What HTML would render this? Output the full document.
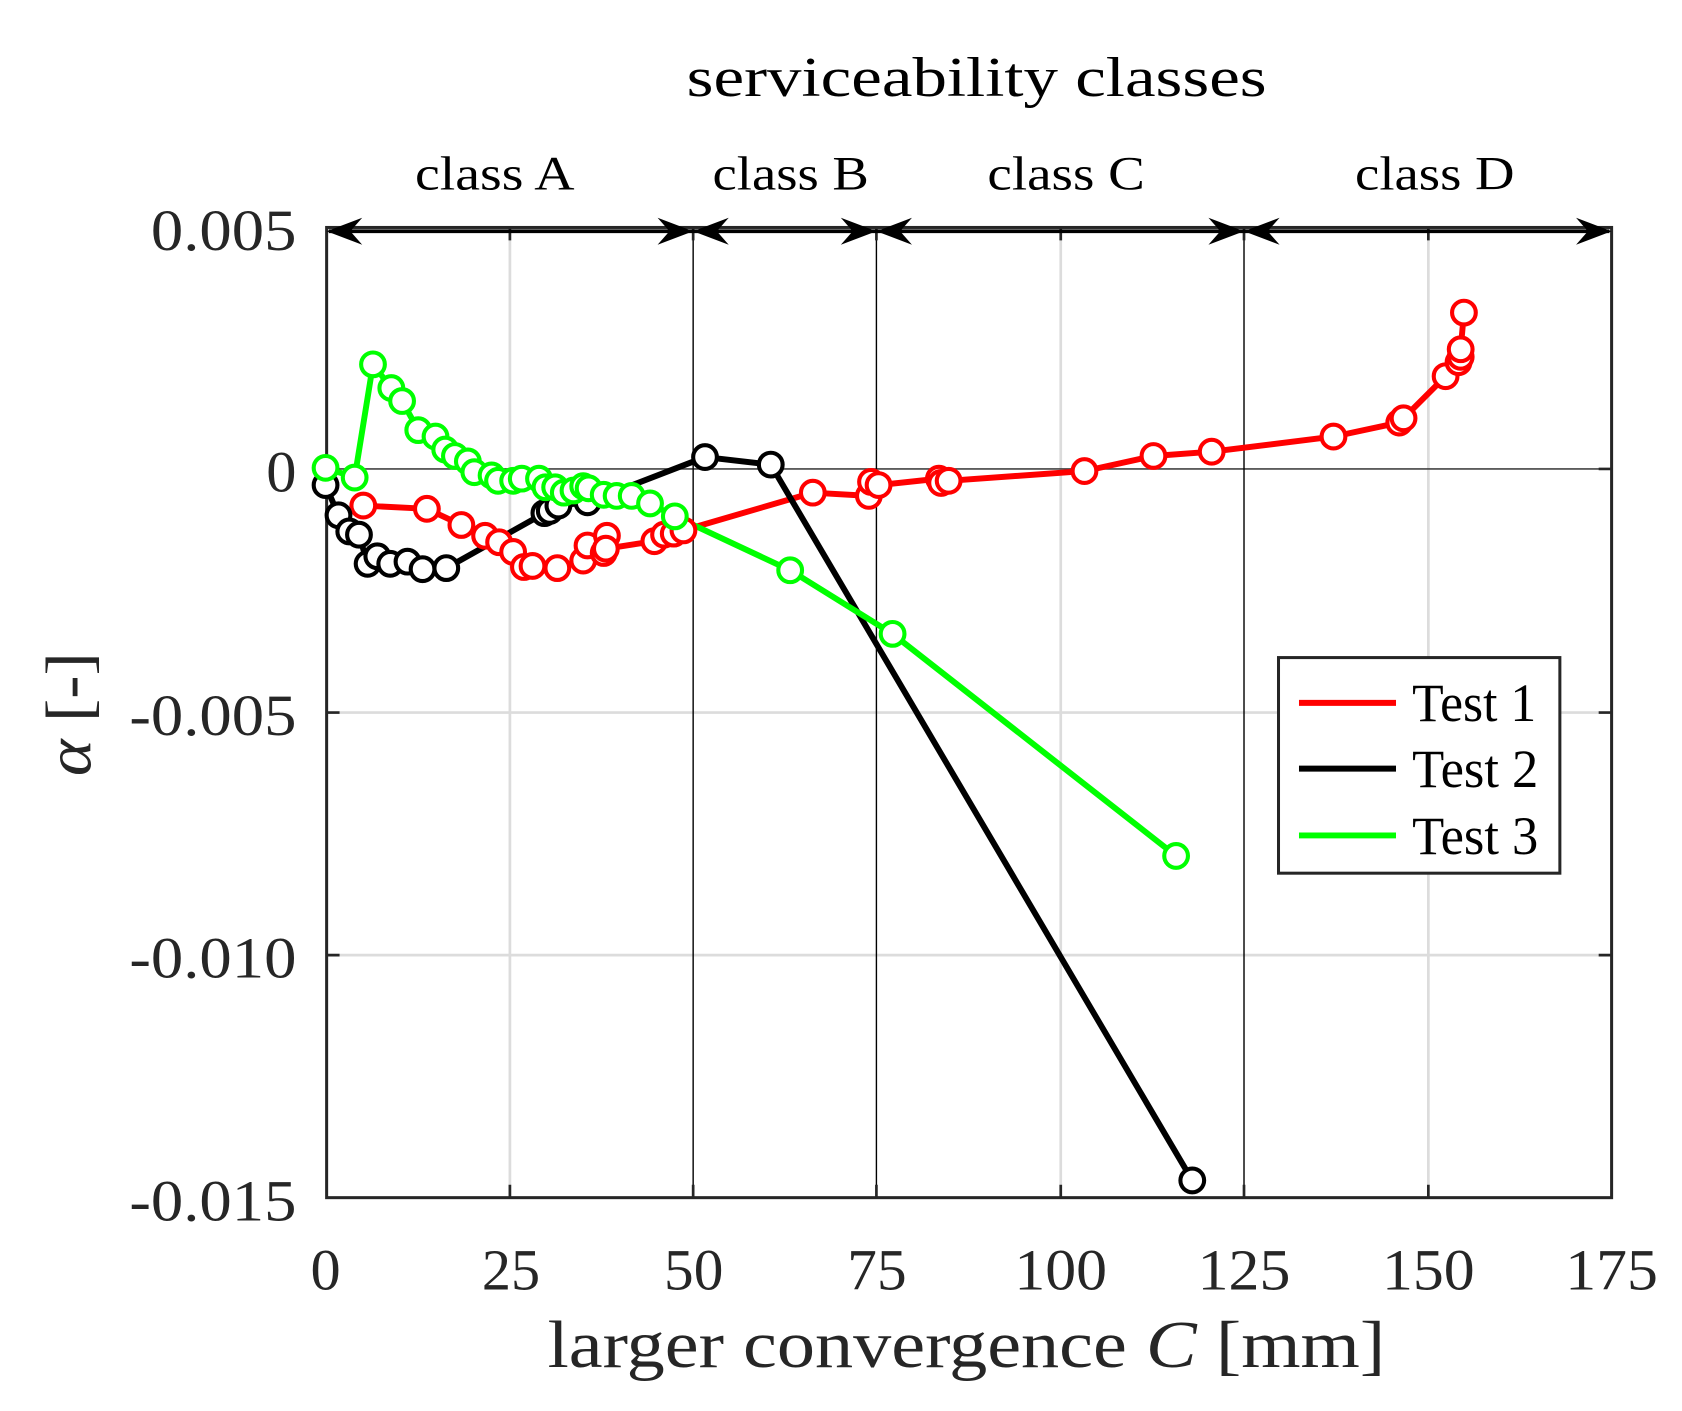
<!DOCTYPE html>
<html><head><meta charset="utf-8"><style>html,body{margin:0;padding:0;background:#fff}svg{display:block}</style></head>
<body>
<svg width="1682" height="1411" viewBox="0 0 1560.3 1308.9" preserveAspectRatio="none" xmlns="http://www.w3.org/2000/svg" font-family="Liberation Serif, serif">
<rect x="0" y="0" width="1561" height="1309" fill="#fff"/>
<g stroke="#dcdcdc" stroke-width="2.5">
<line x1="473" y1="211" x2="473" y2="1111"/>
<line x1="984" y1="211" x2="984" y2="1111"/>
<line x1="1325" y1="211" x2="1325" y2="1111"/>
<line x1="303" y1="661" x2="1495" y2="661"/>
<line x1="303" y1="886" x2="1495" y2="886"/>
</g>
<line x1="303" y1="435" x2="1495" y2="435" stroke="#444" stroke-width="1.5"/>
<g stroke="#000" stroke-width="1.3">
<line x1="643" y1="211" x2="643" y2="1111"/>
<line x1="813" y1="211" x2="813" y2="1111"/>
<line x1="1154" y1="211" x2="1154" y2="1111"/>
</g>
<g stroke="#262626" stroke-width="2.5">
<path d="M473 1111v-12M643 1111v-12M813 1111v-12M984 1111v-12M1154 1111v-12M1325 1111v-12M473 211v12M643 211v12M813 211v12M984 211v12M1154 211v12M1325 211v12"/>
<path d="M303 435h12M303 661h12M303 886h12M1495 435h-12M1495 661h-12M1495 886h-12"/>
</g>
<rect x="303" y="211" width="1192" height="900" fill="none" stroke="#262626" stroke-width="2.8"/>
<g stroke="#000" stroke-width="3.5"><line x1="305" y1="214.5" x2="1493" y2="214.5"/></g>
<g fill="#000">
<path d="M303 214.5 L336 202 L325 214.5 L336 227 Z"/>
<path d="M643 214.5 L610 202 L621 214.5 L610 227 Z"/>
<path d="M643 214.5 L676 202 L665 214.5 L676 227 Z"/>
<path d="M813 214.5 L780 202 L791 214.5 L780 227 Z"/>
<path d="M813 214.5 L846 202 L835 214.5 L846 227 Z"/>
<path d="M1154 214.5 L1121 202 L1132 214.5 L1121 227 Z"/>
<path d="M1154 214.5 L1187 202 L1176 214.5 L1187 227 Z"/>
<path d="M1495 214.5 L1462 202 L1473 214.5 L1462 227 Z"/>
</g>
<g fill="#000">
<text x="637" y="89" font-size="52" textLength="538" lengthAdjust="spacingAndGlyphs">serviceability classes</text>
<g font-size="44">
<text x="385" y="176" textLength="148" lengthAdjust="spacingAndGlyphs">class A</text>
<text x="661" y="176" textLength="145" lengthAdjust="spacingAndGlyphs">class B</text>
<text x="916" y="176" textLength="146" lengthAdjust="spacingAndGlyphs">class C</text>
<text x="1257" y="176" textLength="148" lengthAdjust="spacingAndGlyphs">class D</text>
</g>
<g font-size="54" fill="#262626">
<text x="140" y="232" textLength="135" lengthAdjust="spacingAndGlyphs">0.005</text>
<text x="247" y="456" textLength="28" lengthAdjust="spacingAndGlyphs">0</text>
<text x="120" y="682" textLength="155" lengthAdjust="spacingAndGlyphs">-0.005</text>
<text x="120" y="907" textLength="155" lengthAdjust="spacingAndGlyphs">-0.010</text>
<text x="120" y="1132" textLength="155" lengthAdjust="spacingAndGlyphs">-0.015</text>
</g>
<g font-size="54" fill="#262626">
<text x="288" y="1196" textLength="28" lengthAdjust="spacingAndGlyphs">0</text>
<text x="447" y="1196" textLength="54" lengthAdjust="spacingAndGlyphs">25</text>
<text x="616" y="1196" textLength="55" lengthAdjust="spacingAndGlyphs">50</text>
<text x="786" y="1196" textLength="55" lengthAdjust="spacingAndGlyphs">75</text>
<text x="941" y="1196" textLength="86" lengthAdjust="spacingAndGlyphs">100</text>
<text x="1111" y="1196" textLength="86" lengthAdjust="spacingAndGlyphs">125</text>
<text x="1282" y="1196" textLength="86" lengthAdjust="spacingAndGlyphs">150</text>
<text x="1452" y="1196" textLength="86" lengthAdjust="spacingAndGlyphs">175</text>
</g>
<text x="508" y="1268" font-size="62" fill="#262626" textLength="777" lengthAdjust="spacingAndGlyphs">larger convergence <tspan font-style="italic">C</tspan> [mm]</text>
<text transform="translate(84,720) rotate(-90)" font-size="60" fill="#262626" textLength="115" lengthAdjust="spacingAndGlyphs"><tspan font-style="italic">α</tspan> [-]</text>
</g>
<g fill="none" stroke-width="5.5" stroke-linejoin="round">
<polyline stroke="#ff0000" points="337,469 396,472 428,487 450,497 463,503 476,512 486,526 494,525 517,527 541,520 545,506 560,513 563,497 562,509 607,502 616,496 625,495 634,492 754,457 806,460 808,447 815,450 871,444 873,448 880,446 1006,437 1070,423 1124,419 1237,405 1298,392 1302,388 1341,349 1353,336 1355,331 1355,324 1358,290"/>
<polyline stroke="#000" points="302,450 314,478 324,493 333,496 341,523 350,516 362,523 378,521 392,528 414,527 505,476 510,474 518,469 545,466 654,424 715,431 1106,1095"/>
<polyline stroke="#00ff00" points="302,434 329,443 346,338 363,360 373,372 388,399 404,405 413,417 422,423 434,428 440,438 456,441 462,446 476,446 484,444 500,444 506,452 515,452 523,457 532,455 541,451 546,453 560,459 572,460 586,460 603,467 626,479 733,529 828,588 1091,794"/>
</g>
<g fill="#fff" stroke-width="3.8">
<g stroke="#ff0000">
<circle cx="337" cy="469" r="11"/><circle cx="396" cy="472" r="11"/><circle cx="428" cy="487" r="11"/><circle cx="450" cy="497" r="11"/><circle cx="463" cy="503" r="11"/><circle cx="476" cy="512" r="11"/><circle cx="486" cy="526" r="11"/><circle cx="494" cy="525" r="11"/><circle cx="517" cy="527" r="11"/><circle cx="541" cy="520" r="11"/><circle cx="545" cy="506" r="11"/><circle cx="560" cy="513" r="11"/><circle cx="563" cy="497" r="11"/><circle cx="562" cy="509" r="11"/><circle cx="607" cy="502" r="11"/><circle cx="616" cy="496" r="11"/><circle cx="625" cy="495" r="11"/><circle cx="634" cy="492" r="11"/><circle cx="754" cy="457" r="11"/><circle cx="806" cy="460" r="11"/><circle cx="808" cy="447" r="11"/><circle cx="815" cy="450" r="11"/><circle cx="871" cy="444" r="11"/><circle cx="873" cy="448" r="11"/><circle cx="880" cy="446" r="11"/><circle cx="1006" cy="437" r="11"/><circle cx="1070" cy="423" r="11"/><circle cx="1124" cy="419" r="11"/><circle cx="1237" cy="405" r="11"/><circle cx="1298" cy="392" r="11"/><circle cx="1302" cy="388" r="11"/><circle cx="1341" cy="349" r="11"/><circle cx="1353" cy="336" r="11"/><circle cx="1355" cy="331" r="11"/><circle cx="1355" cy="324" r="11"/><circle cx="1358" cy="290" r="11"/>
</g>
<g stroke="#000">
<circle cx="302" cy="450" r="11"/><circle cx="314" cy="478" r="11"/><circle cx="324" cy="493" r="11"/><circle cx="333" cy="496" r="11"/><circle cx="341" cy="523" r="11"/><circle cx="350" cy="516" r="11"/><circle cx="362" cy="523" r="11"/><circle cx="378" cy="521" r="11"/><circle cx="392" cy="528" r="11"/><circle cx="414" cy="527" r="11"/><circle cx="505" cy="476" r="11"/><circle cx="510" cy="474" r="11"/><circle cx="518" cy="469" r="11"/><circle cx="545" cy="466" r="11"/><circle cx="654" cy="424" r="11"/><circle cx="715" cy="431" r="11"/><circle cx="1106" cy="1095" r="11"/>
</g>
<g stroke="#00ff00">
<circle cx="302" cy="434" r="11"/><circle cx="329" cy="443" r="11"/><circle cx="346" cy="338" r="11"/><circle cx="363" cy="360" r="11"/><circle cx="373" cy="372" r="11"/><circle cx="388" cy="399" r="11"/><circle cx="404" cy="405" r="11"/><circle cx="413" cy="417" r="11"/><circle cx="422" cy="423" r="11"/><circle cx="434" cy="428" r="11"/><circle cx="440" cy="438" r="11"/><circle cx="456" cy="441" r="11"/><circle cx="462" cy="446" r="11"/><circle cx="476" cy="446" r="11"/><circle cx="484" cy="444" r="11"/><circle cx="500" cy="444" r="11"/><circle cx="506" cy="452" r="11"/><circle cx="515" cy="452" r="11"/><circle cx="523" cy="457" r="11"/><circle cx="532" cy="455" r="11"/><circle cx="541" cy="451" r="11"/><circle cx="546" cy="453" r="11"/><circle cx="560" cy="459" r="11"/><circle cx="572" cy="460" r="11"/><circle cx="586" cy="460" r="11"/><circle cx="603" cy="467" r="11"/><circle cx="626" cy="479" r="11"/><circle cx="733" cy="529" r="11"/><circle cx="828" cy="588" r="11"/><circle cx="1091" cy="794" r="11"/>
</g>
</g>
<rect x="1186" y="610" width="261" height="200" fill="#fff" stroke="#262626" stroke-width="2.8"/>
<g stroke-width="5.5">
<line x1="1205" y1="652" x2="1295" y2="652" stroke="#ff0000"/>
<line x1="1205" y1="713" x2="1295" y2="713" stroke="#000"/>
<line x1="1205" y1="775" x2="1295" y2="775" stroke="#00ff00"/>
</g>
<g font-size="50" fill="#000">
<text x="1310" y="669" textLength="115" lengthAdjust="spacingAndGlyphs">Test 1</text>
<text x="1310" y="730" textLength="117" lengthAdjust="spacingAndGlyphs">Test 2</text>
<text x="1310" y="792" textLength="117" lengthAdjust="spacingAndGlyphs">Test 3</text>
</g>
</svg>
</body></html>
